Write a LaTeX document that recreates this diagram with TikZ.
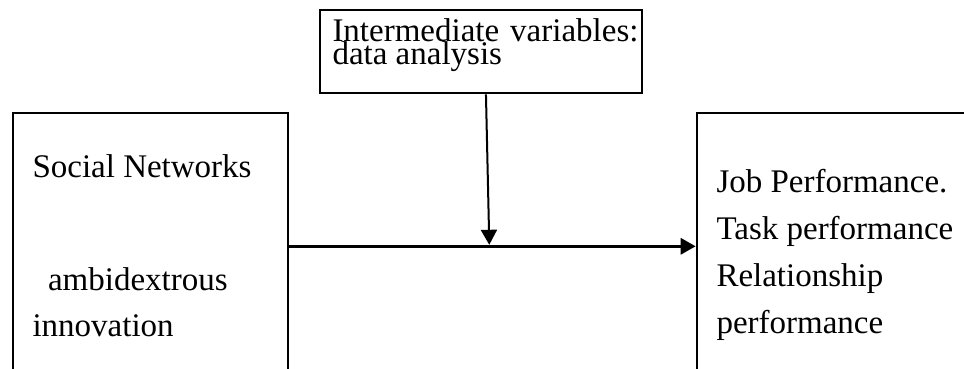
\documentclass[tikz,border=0pt]{standalone}
\usepackage{fontspec}
\setmainfont{Liberation Serif}
\usetikzlibrary{arrows.meta}

\tikzset{every picture/.style={line width=2pt}}
\tikzset{
  box/.style={draw, anchor=north west, inner sep=0pt},
  txt/.style={anchor=base west, inner sep=0pt, font=\fontsize{33}{47}\selectfont, align=left},
  flow/.style={-{Triangle[length=15pt,width=16pt]}}
}

\begin{document}
\begin{tikzpicture}[x=1pt,y=1pt,yscale=-1,xscale=1]
\useasboundingbox (0,0) rectangle (964,369);
\clip (0,0) rectangle (964,369);

%Shape: Rectangle [mediator]
\node [box, minimum width=321.7pt, minimum height=83.3pt] (mediator) at (319,9) {};
%Shape: Rectangle [runs past the bottom edge]
\node [box, minimum width=274.7pt, minimum height=300pt] (social) at (12,111.7) {};
%Shape: Rectangle [runs past the right and bottom edges]
\node [box, minimum width=300pt, minimum height=300pt] (perf) at (695.7,111.7) {};

\coordinate (join) at (489.3,246.3);
\coordinate (tip) at (489.3,244.8);

%Straight Lines
\draw [flow, line width=3pt] (social.east |- join) -- (perf.west |- join);
%Straight Lines
\draw [flow] ([xshift=5.1pt]mediator.south) -- (tip);

% Text Node (base = last line)
\node [txt, font=\fontsize{33}{24}\selectfont] (midtext) at (331.5,65) {\makebox[306pt][s]{Intermediate variables:}\\data analysis};
% Text Node
\node [txt] (sn) at (31.5,177.3) {Social Networks};
% Text Node
\node [txt] (ambi) at (47,290.7) {ambidextrous};
% Text Node
\node [txt] (innov) at (31.5,336.7) {innovation};
% Text Node (base = last line)
\node [txt] (perftext) at (715.5,333.3) {Job Performance.\\Task performance\\Relationship\\performance};

\end{tikzpicture}
\end{document}
